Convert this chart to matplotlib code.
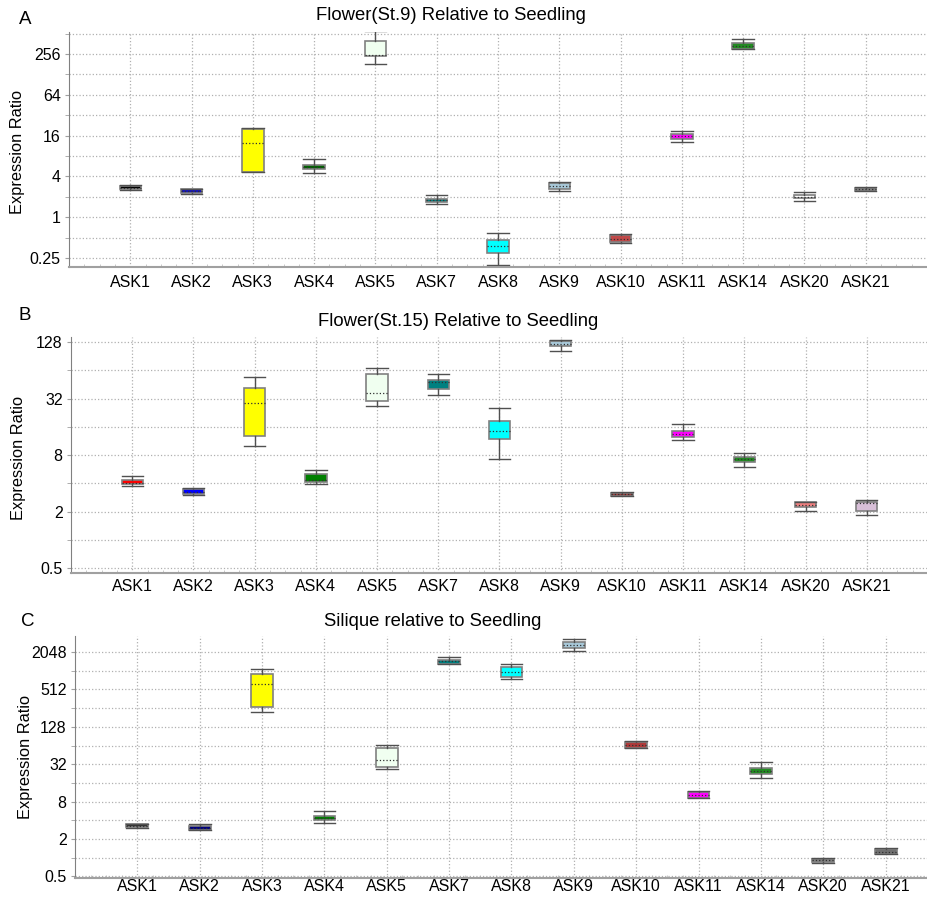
import matplotlib

matplotlib.use("Agg")
import matplotlib.pyplot as plt
from matplotlib.ticker import FixedLocator, NullFormatter, FuncFormatter

plt.rcParams["font.family"] = ["Liberation Sans", "DejaVu Sans"]

FIG_W, FIG_H = 928, 898

genes = ["ASK1", "ASK2", "ASK3", "ASK4", "ASK5", "ASK7", "ASK8",
         "ASK9", "ASK10", "ASK11", "ASK14", "ASK20", "ASK21"]

# Panel A: Flower(St.9) relative to seedling
a_low = [2.55, 2.22, 4.6, 4.43, 182, 1.55, 0.197, 2.44, 0.42, 12.9, 300, 1.76, 2.40]
a_q1 = [2.58, 2.25, 4.63, 5.18, 242, 1.66, 0.296, 2.64, 0.43, 14.4, 303, 1.90, 2.43]
a_med = [2.69, 2.43, 12.6, 5.55, 250, 1.78, 0.371, 2.92, 0.476, 15.6, 340, 2.00, 2.58]
a_q3 = [2.89, 2.60, 20.3, 5.87, 397, 1.88, 0.454, 3.23, 0.54, 16.8, 372, 2.13, 2.72]
a_high = [2.95, 2.62, 21.0, 7.2, 557, 2.13, 0.58, 3.30, 0.557, 18.9, 430, 2.33, 2.75]
a_colors = ["#000000", "#1010c0", "#ffff00", "#006400", "#f0fff0", "#008080", "#00ffff",
            "#a8c8d8", "#c04848", "#ff00ff", "#228b22", "#ffffff", "#808080"]

# Panel B: Flower(St.15) relative to seedling
b_low = [3.75, 2.98, 10.0, 3.9, 26.4, 34.8, 7.36, 103, 2.93, 11.5, 5.98, 2.01, 1.83]
b_q1 = [3.9, 3.05, 12.7, 4.1, 30.5, 41.0, 11.8, 115, 2.95, 12.6, 6.78, 2.22, 2.01]
b_med = [4.07, 3.26, 28.6, 4.4, 37.0, 47.8, 14.6, 123, 3.08, 13.5, 7.2, 2.33, 2.45]
b_q3 = [4.4, 3.46, 41.9, 5.0, 58.9, 50.9, 18.5, 131, 3.2, 14.5, 7.57, 2.51, 2.55]
b_high = [4.75, 3.61, 54.0, 5.5, 67.6, 58.5, 25.6, 136, 3.25, 17.0, 8.46, 2.55, 2.66]
b_colors = ["#ff0000", "#0000ff", "#ffff00", "#008000", "#f0fff0", "#008080", "#00ffff",
            "#a8c8d8", "#a04040", "#ff00ff", "#228b22", "#f08080", "#d8bfd8"]

# Panel C: Silique relative to seedling
c_low = [3.0, 2.8, 221, 3.58, 26.5, 1296, 744, 2120, 58, 9.0, 19.0, 0.82, 1.13]
c_q1 = [3.08, 2.83, 265, 4.0, 29.3, 1340, 798, 2400, 59, 9.06, 22.3, 0.84, 1.15]
c_med = [3.24, 3.0, 630, 4.32, 38.0, 1470, 990, 2680, 66, 10.1, 24.7, 0.90, 1.25]
c_q3 = [3.45, 3.24, 917, 4.6, 58.7, 1550, 1160, 2980, 73.5, 11.2, 28.2, 0.95, 1.37]
c_high = [3.5, 3.47, 1100, 5.6, 65.6, 1677, 1296, 3360, 77, 11.7, 34.5, 0.98, 1.43]
c_colors = ["#303030", "#000080", "#ffff00", "#008000", "#f0fff0", "#008080", "#00ffff",
            "#a8c8d8", "#b03a3a", "#ff00ff", "#228b22", "#808080", "#707070"]

a_ticks = [0.25, 1, 4, 16, 64, 256]
b_ticks = [0.5, 2, 8, 32, 128]
c_ticks = [0.5, 2, 8, 32, 128, 512, 2048]


def px_axes(fig, left, right, top, bottom):
    return fig.add_axes([left / FIG_W, 1 - bottom / FIG_H,
                         (right - left) / FIG_W, (bottom - top) / FIG_H])


def fmt_tick(v, _pos):
    return f"{v:g}"


def draw_panel(ax, low, q1, med, q3, high, colors, ticks, ylim, xmax, xpad):
    stats = []
    for i, name in enumerate(genes):
        stats.append({"label": name, "whislo": low[i], "q1": q1[i], "med": med[i],
                      "q3": q3[i], "whishi": high[i], "fliers": []})
    bp = ax.bxp(stats, positions=range(1, len(genes) + 1), widths=0.35,
                patch_artist=True, showfliers=False,
                boxprops=dict(edgecolor="#808080", linewidth=1.2),
                whiskerprops=dict(color="#505050", linewidth=1.0),
                capprops=dict(color="#505050", linewidth=1.0),
                medianprops=dict(color="#303030", linewidth=0.9, linestyle=":"),
                capwidths=0.35)
    for patch, col in zip(bp["boxes"], colors):
        patch.set_facecolor(col)

    ax.set_yscale("log", base=2)
    ax.set_ylim(*ylim)
    ax.set_xlim(0, xmax)
    ax.yaxis.set_major_locator(FixedLocator(ticks))
    ax.yaxis.set_major_formatter(FuncFormatter(fmt_tick))
    octaves = [2.0 ** k for k in range(-4, 14)]
    ax.yaxis.set_minor_locator(FixedLocator(octaves))
    ax.yaxis.set_minor_formatter(NullFormatter())
    ax.set_xticks(range(1, len(genes) + 1))
    ax.set_xticklabels(genes)
    ax.xaxis.set_minor_locator(FixedLocator([k * 0.25 for k in range(int(xmax * 4) + 1)]))

    ax.grid(True, which="both", axis="y", color="#b0b0b0", linestyle=":", linewidth=0.9)
    ax.grid(True, which="major", axis="x", color="#b0b0b0", linestyle=":", linewidth=0.9)
    ax.set_axisbelow(True)

    for side in ("top", "right"):
        ax.spines[side].set_visible(False)
    ax.spines["left"].set_color("#808080")
    ax.spines["bottom"].set_color("#a0a0a0")
    ax.spines["bottom"].set_linewidth(1.5)
    ax.tick_params(axis="y", which="both", length=3, color="#a0a0a0", labelsize=11.5, pad=3)
    ax.tick_params(axis="x", which="major", length=0, labelsize=11.5, pad=xpad)
    ax.tick_params(axis="x", which="minor", length=2, direction="in", color="#c0c0c0")


fig = plt.figure(figsize=(FIG_W / 100, FIG_H / 100), dpi=100)

ax_a = px_axes(fig, 69, 927, 32, 267)
draw_panel(ax_a, a_low, a_q1, a_med, a_q3, a_high, a_colors, a_ticks,
           (2 ** -2.44, 2 ** 9.08), 14, 5.5)
ax_b = px_axes(fig, 71, 928, 337, 573)
draw_panel(ax_b, b_low, b_q1, b_med, b_q3, b_high, b_colors, b_ticks,
           (2 ** -1.17, 2 ** 7.18), 14, 4.5)
ax_c = px_axes(fig, 75, 928, 636, 878)
draw_panel(ax_c, c_low, c_q1, c_med, c_q3, c_high, c_colors, c_ticks,
           (2 ** -1.09, 2 ** 11.86), 13.68, 1.0)

titles = [("Flower(St.9) Relative to Seedling", 451, 15),
          ("Flower(St.15) Relative to Seedling", 458, 321),
          ("Silique relative to Seedling", 433, 621)]
for text, x, y in titles:
    fig.text(x / FIG_W, 1 - y / FIG_H, text, ha="center", va="center", fontsize=13.3)

for letter, x, y in [("A", 25, 19), ("B", 25, 315), ("C", 28, 622)]:
    fig.text(x / FIG_W, 1 - y / FIG_H, letter, ha="center", va="center", fontsize=13.5)

for x, y in [(18, 152), (19, 458), (26, 757)]:
    fig.text(x / FIG_W, 1 - y / FIG_H, "Expression Ratio", rotation=90,
             ha="center", va="center", fontsize=11.8)

fig.savefig("out.png", dpi=100)
plt.close(fig)
